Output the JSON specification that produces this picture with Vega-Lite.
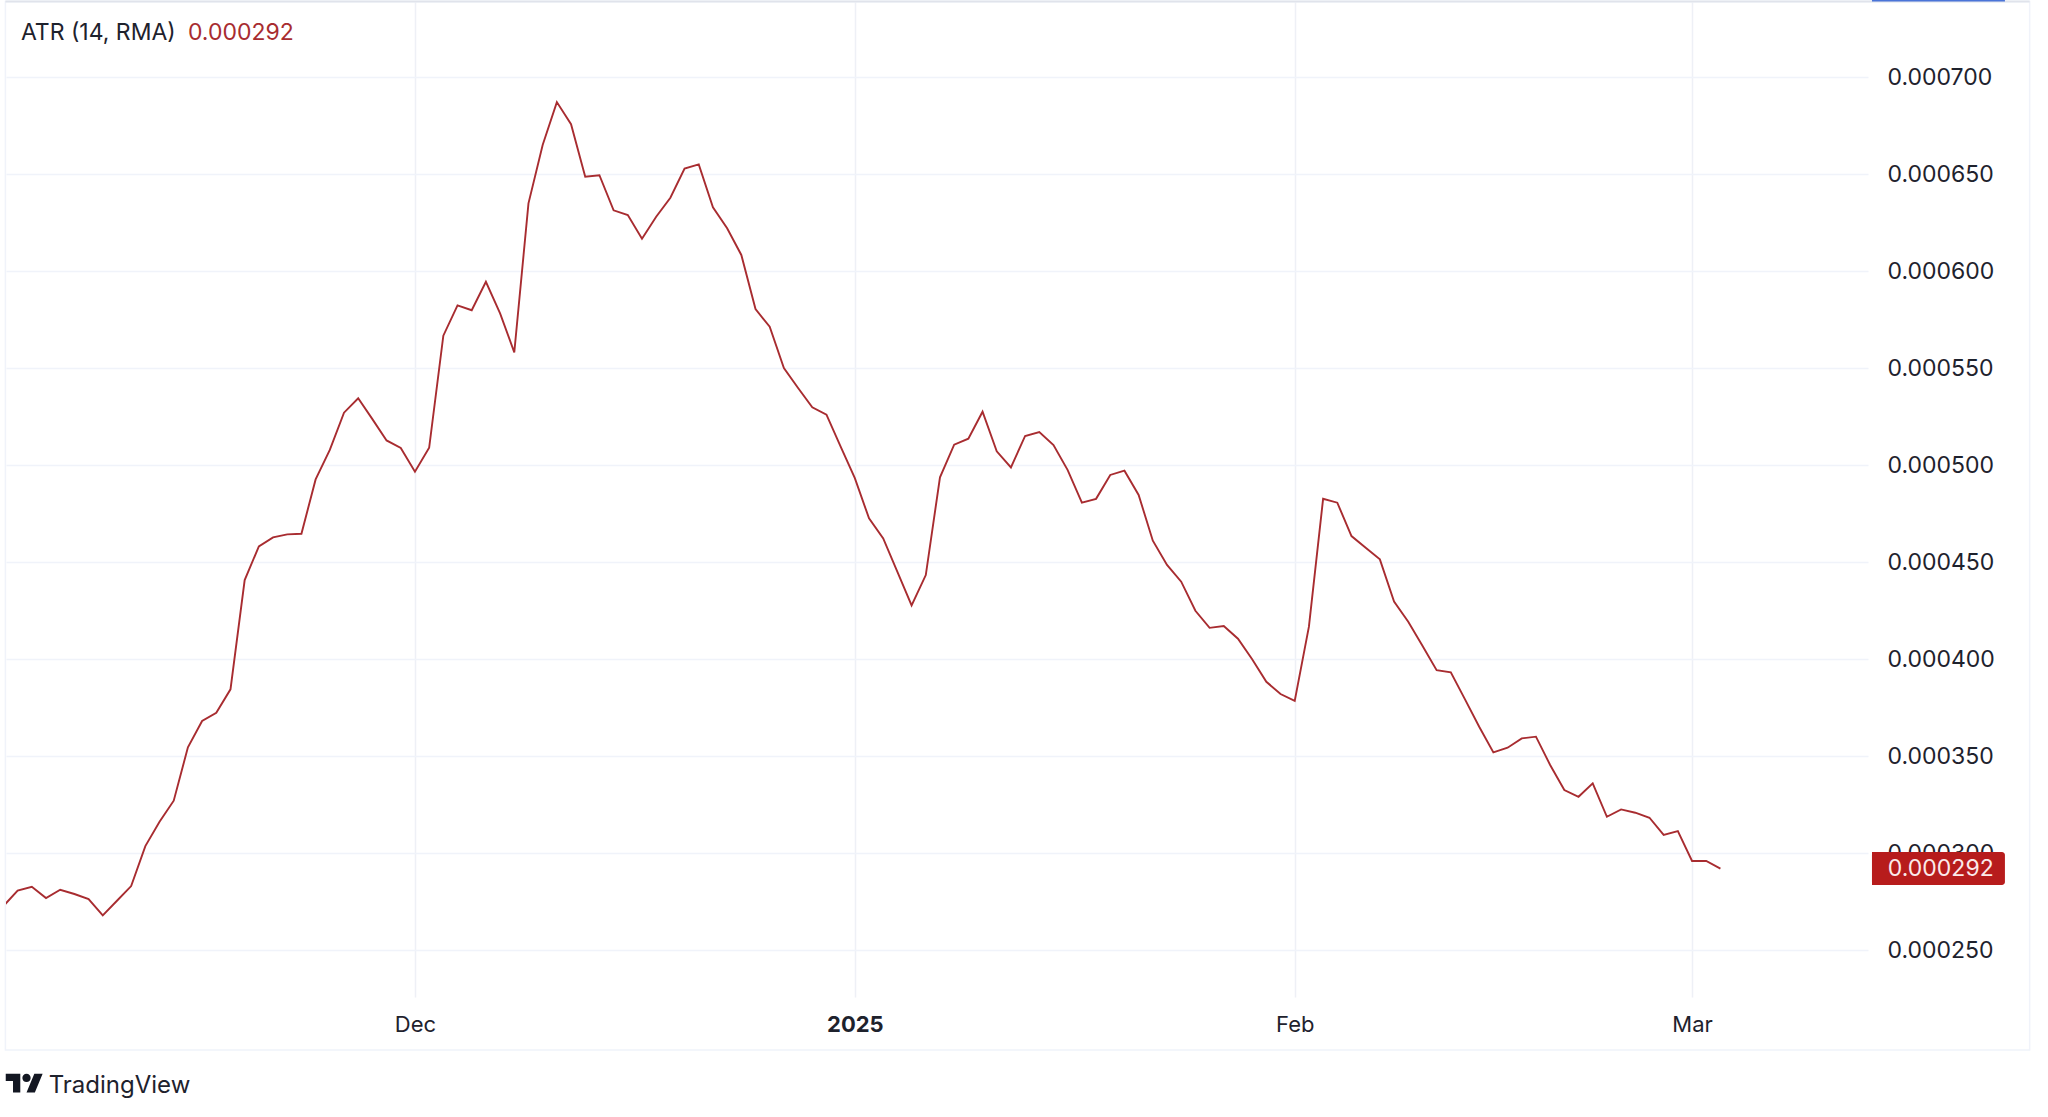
{
  "$schema": "https://vega.github.io/schema/vega-lite/v6.json",
  "width": 1862,
  "height": 995,
  "autosize": "none",
  "padding": {"left": 6, "top": 2, "right": 180, "bottom": 120},
  "background": "#ffffff",
  "view": {"stroke": null},
  "config": {"font": "Inter"},
  "datasets": {
    "atr": [
      {"date": "2024-11-02", "atr": 0.0002727},
      {"date": "2024-11-03", "atr": 0.0002806},
      {"date": "2024-11-04", "atr": 0.0002826},
      {"date": "2024-11-05", "atr": 0.0002768},
      {"date": "2024-11-06", "atr": 0.0002811},
      {"date": "2024-11-07", "atr": 0.0002789},
      {"date": "2024-11-08", "atr": 0.0002763},
      {"date": "2024-11-09", "atr": 0.0002679},
      {"date": "2024-11-10", "atr": 0.0002754},
      {"date": "2024-11-11", "atr": 0.000283},
      {"date": "2024-11-12", "atr": 0.0003036},
      {"date": "2024-11-13", "atr": 0.0003161},
      {"date": "2024-11-14", "atr": 0.000327},
      {"date": "2024-11-15", "atr": 0.0003545},
      {"date": "2024-11-16", "atr": 0.0003681},
      {"date": "2024-11-17", "atr": 0.0003723},
      {"date": "2024-11-18", "atr": 0.0003844},
      {"date": "2024-11-19", "atr": 0.0004407},
      {"date": "2024-11-20", "atr": 0.0004581},
      {"date": "2024-11-21", "atr": 0.0004627},
      {"date": "2024-11-22", "atr": 0.0004643},
      {"date": "2024-11-23", "atr": 0.0004646},
      {"date": "2024-11-24", "atr": 0.0004926},
      {"date": "2024-11-25", "atr": 0.0005078},
      {"date": "2024-11-26", "atr": 0.000527},
      {"date": "2024-11-27", "atr": 0.0005344},
      {"date": "2024-11-28", "atr": 0.0005237},
      {"date": "2024-11-29", "atr": 0.0005127},
      {"date": "2024-11-30", "atr": 0.0005088},
      {"date": "2024-12-01", "atr": 0.0004966},
      {"date": "2024-12-02", "atr": 0.0005089},
      {"date": "2024-12-03", "atr": 0.0005667},
      {"date": "2024-12-04", "atr": 0.0005823},
      {"date": "2024-12-05", "atr": 0.0005798},
      {"date": "2024-12-06", "atr": 0.0005945},
      {"date": "2024-12-07", "atr": 0.0005782},
      {"date": "2024-12-08", "atr": 0.0005581},
      {"date": "2024-12-09", "atr": 0.0006349},
      {"date": "2024-12-10", "atr": 0.000665},
      {"date": "2024-12-11", "atr": 0.0006871},
      {"date": "2024-12-12", "atr": 0.0006757},
      {"date": "2024-12-13", "atr": 0.0006486},
      {"date": "2024-12-14", "atr": 0.0006494},
      {"date": "2024-12-15", "atr": 0.0006313},
      {"date": "2024-12-16", "atr": 0.0006289},
      {"date": "2024-12-17", "atr": 0.0006167},
      {"date": "2024-12-18", "atr": 0.000628},
      {"date": "2024-12-19", "atr": 0.0006378},
      {"date": "2024-12-20", "atr": 0.0006528},
      {"date": "2024-12-21", "atr": 0.000655},
      {"date": "2024-12-22", "atr": 0.0006329},
      {"date": "2024-12-23", "atr": 0.0006221},
      {"date": "2024-12-24", "atr": 0.0006083},
      {"date": "2024-12-25", "atr": 0.0005804},
      {"date": "2024-12-26", "atr": 0.0005713},
      {"date": "2024-12-27", "atr": 0.00055},
      {"date": "2024-12-28", "atr": 0.0005397},
      {"date": "2024-12-29", "atr": 0.0005298},
      {"date": "2024-12-30", "atr": 0.000526},
      {"date": "2024-12-31", "atr": 0.0005095},
      {"date": "2025-01-01", "atr": 0.0004933},
      {"date": "2025-01-02", "atr": 0.0004725},
      {"date": "2025-01-03", "atr": 0.0004622},
      {"date": "2025-01-04", "atr": 0.000445},
      {"date": "2025-01-05", "atr": 0.0004277},
      {"date": "2025-01-06", "atr": 0.0004433},
      {"date": "2025-01-07", "atr": 0.0004937},
      {"date": "2025-01-08", "atr": 0.0005105},
      {"date": "2025-01-09", "atr": 0.0005136},
      {"date": "2025-01-10", "atr": 0.0005275},
      {"date": "2025-01-11", "atr": 0.0005071},
      {"date": "2025-01-12", "atr": 0.0004988},
      {"date": "2025-01-13", "atr": 0.000515},
      {"date": "2025-01-14", "atr": 0.000517},
      {"date": "2025-01-15", "atr": 0.0005103},
      {"date": "2025-01-16", "atr": 0.0004974},
      {"date": "2025-01-17", "atr": 0.0004806},
      {"date": "2025-01-18", "atr": 0.0004826},
      {"date": "2025-01-19", "atr": 0.0004949},
      {"date": "2025-01-20", "atr": 0.0004971},
      {"date": "2025-01-21", "atr": 0.0004846},
      {"date": "2025-01-22", "atr": 0.000461},
      {"date": "2025-01-23", "atr": 0.0004485},
      {"date": "2025-01-24", "atr": 0.0004399},
      {"date": "2025-01-25", "atr": 0.0004249},
      {"date": "2025-01-26", "atr": 0.0004161},
      {"date": "2025-01-27", "atr": 0.000417},
      {"date": "2025-01-28", "atr": 0.0004105},
      {"date": "2025-01-29", "atr": 0.0003999},
      {"date": "2025-01-30", "atr": 0.0003883},
      {"date": "2025-01-31", "atr": 0.000382},
      {"date": "2025-02-01", "atr": 0.0003784},
      {"date": "2025-02-02", "atr": 0.0004167},
      {"date": "2025-02-03", "atr": 0.0004826},
      {"date": "2025-02-04", "atr": 0.0004806},
      {"date": "2025-02-05", "atr": 0.0004634},
      {"date": "2025-02-06", "atr": 0.0004574},
      {"date": "2025-02-07", "atr": 0.0004514},
      {"date": "2025-02-08", "atr": 0.0004296},
      {"date": "2025-02-09", "atr": 0.0004192},
      {"date": "2025-02-10", "atr": 0.0004069},
      {"date": "2025-02-11", "atr": 0.0003943},
      {"date": "2025-02-12", "atr": 0.0003932},
      {"date": "2025-02-13", "atr": 0.0003792},
      {"date": "2025-02-14", "atr": 0.0003651},
      {"date": "2025-02-15", "atr": 0.0003519},
      {"date": "2025-02-16", "atr": 0.0003543},
      {"date": "2025-02-17", "atr": 0.0003591},
      {"date": "2025-02-18", "atr": 0.00036},
      {"date": "2025-02-19", "atr": 0.0003454},
      {"date": "2025-02-20", "atr": 0.0003325},
      {"date": "2025-02-21", "atr": 0.000329},
      {"date": "2025-02-22", "atr": 0.0003359},
      {"date": "2025-02-23", "atr": 0.0003187},
      {"date": "2025-02-24", "atr": 0.0003225},
      {"date": "2025-02-25", "atr": 0.0003208},
      {"date": "2025-02-26", "atr": 0.0003182},
      {"date": "2025-02-27", "atr": 0.0003094},
      {"date": "2025-02-28", "atr": 0.0003113},
      {"date": "2025-03-01", "atr": 0.0002959},
      {"date": "2025-03-02", "atr": 0.0002959},
      {"date": "2025-03-03", "atr": 0.000292}
    ]
  },
  "encoding": {
    "x": {
      "field": "date",
      "type": "temporal",
      "title": null,
      "scale": {
        "type": "utc",
        "domain": ["2024-11-02T04:19:00Z", "2025-03-13T09:36:00Z"]
      },
      "axis": {
        "orient": "bottom",
        "values": [
          {"year": 2024, "month": 12, "date": 1, "utc": true},
          {"year": 2025, "month": 1, "date": 1, "utc": true},
          {"year": 2025, "month": 2, "date": 1, "utc": true},
          {"year": 2025, "month": 3, "date": 1, "utc": true}
        ],
        "labelExpr": "utcmonth(datum.value) == 0 ? utcFormat(datum.value, '%Y') : utcFormat(datum.value, '%b')",
        "labelFontSize": 22,
        "labelFont": "Inter",
        "labelColor": "#1e222d",
        "labelFontWeight": {
          "condition": {"test": "utcmonth(datum.value) == 0", "value": 700},
          "value": 400
        },
        "labelPadding": 17,
        "labelFlush": false,
        "domain": false,
        "ticks": false,
        "grid": true,
        "gridColor": "#eef0f6",
        "gridWidth": 1.5
      }
    },
    "y": {
      "field": "atr",
      "type": "quantitative",
      "title": null,
      "scale": {"domain": [0.0002258, 0.0007387], "nice": false, "zero": false},
      "axis": {
        "orient": "right",
        "values": [0.00025, 0.0003, 0.00035, 0.0004, 0.00045, 0.0005, 0.00055, 0.0006, 0.00065, 0.0007],
        "format": ".6f",
        "labelFontSize": 23,
        "labelFont": "Inter",
        "labelColor": "#1e222d",
        "labelPadding": 19,
        "domain": false,
        "ticks": false,
        "grid": true,
        "gridColor": "#f0f3fa",
        "gridWidth": 1.5
      }
    }
  },
  "layer": [
    {
      "data": {"values": [
        {"date": "2024-11-02T03:20:00Z", "date2": "2025-03-24T19:00:00Z", "atr": 0.000739, "atr2": 0.00019845}
      ]},
      "mark": {"type": "rect", "fill": null, "stroke": "#f0f3fa", "strokeWidth": 1.5},
      "encoding": {"x2": {"field": "date2"}, "y2": {"field": "atr2"}}
    },
    {
      "data": {"values": [
        {"date": "2024-11-02T03:20:00Z", "date2": "2025-03-24T19:00:00Z", "atr": 0.000739}
      ]},
      "mark": {"type": "rule", "stroke": "#e0e3eb", "strokeWidth": 2},
      "encoding": {"x2": {"field": "date2"}}
    },
    {
      "data": {"values": [
        {"date": "2025-03-13T16:19:00Z", "date2": "2025-03-23T01:12:00Z", "atr": 0.0007395}
      ]},
      "mark": {"type": "rule", "stroke": "#4a74d8", "strokeWidth": 2},
      "encoding": {"x2": {"field": "date2"}}
    },
    {
      "data": {"name": "atr"},
      "mark": {"type": "line", "stroke": "#a82c30", "strokeWidth": 1.9, "clip": true, "strokeJoin": "miter"}
    },
    {
      "data": {"values": [
        {"date": "2025-03-13T16:19:00Z", "date2": "2025-03-23T01:12:00Z", "atr": 0.0003005, "atr2": 0.0002835}
      ]},
      "mark": {"type": "rect", "fill": "#b71c1c", "cornerRadiusTopRight": 3, "cornerRadiusBottomRight": 3},
      "encoding": {"x2": {"field": "date2"}, "y2": {"field": "atr2"}}
    },
    {
      "data": {"values": [
        {"date": "2025-03-14T19:12:00Z", "atr": 0.000292, "label": "0.000292"}
      ]},
      "mark": {"type": "text", "align": "left", "baseline": "middle", "font": "Inter", "fontSize": 23, "fill": "#fbeaea"},
      "encoding": {"text": {"field": "label"}}
    },
    {
      "data": {"values": [
        {"date": "2024-11-03T05:33:00Z", "atr": 0.0007227, "label": "ATR (14, RMA)"}
      ]},
      "mark": {"type": "text", "align": "left", "baseline": "middle", "font": "Inter", "fontSize": 23, "fill": "#1e222d"},
      "encoding": {"text": {"field": "label"}}
    },
    {
      "data": {"values": [
        {"date": "2024-11-15T00:00:00Z", "atr": 0.0007227, "label": "0.000292"}
      ]},
      "mark": {"type": "text", "align": "left", "baseline": "middle", "font": "Inter", "fontSize": 23, "fill": "#a82c30"},
      "encoding": {"text": {"field": "label"}}
    },
    {
      "data": {"values": [
        {"date": "2024-11-05T04:30:00Z", "atr": 0.0001764, "label": "TradingView"}
      ]},
      "mark": {"type": "text", "align": "left", "baseline": "alphabetic", "font": "Inter", "fontSize": 24, "fill": "#1e222d"},
      "encoding": {"text": {"field": "label"}}
    },
    {
      "data": {"values": [
        {"date": "2024-11-03T11:31:00Z", "atr": 0.0001814}
      ]},
      "mark": {
        "type": "point",
        "filled": true,
        "fill": "#131722",
        "opacity": 1,
        "size": 1400,
        "shape": "M-0.222 0.5H-0.611V-0.111H-1V-0.5H-0.222ZM0.556 0.5H0.111L0.528 -0.5H0.972ZM-0.111 -0.278A0.222 0.222 0 1 0 0.333 -0.278A0.222 0.222 0 1 0 -0.111 -0.278Z"
      }
    }
  ]
}
